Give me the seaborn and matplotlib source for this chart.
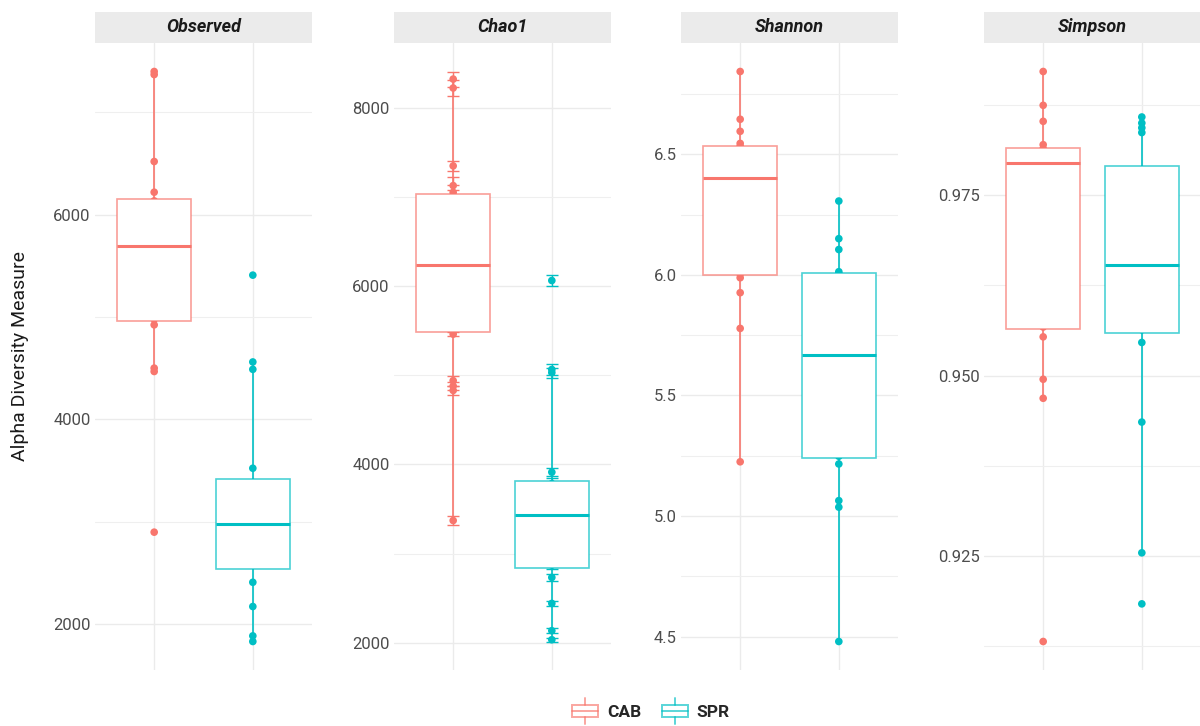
import matplotlib
matplotlib.use("Agg")
import matplotlib.pyplot as plt
import pandas as pd
import seaborn as sns
from matplotlib.colors import to_rgba
from matplotlib.legend_handler import HandlerBase
from matplotlib.lines import Line2D
from matplotlib.patches import Rectangle
from matplotlib.ticker import FormatStrFormatter, MultipleLocator

groups = ["CAB", "SPR"]
measures = ["Observed", "Chao1", "Shannon", "Simpson"]
group_colors = {"CAB": "#F8766D", "SPR": "#00BFC4"}

# values (points inside the boxes are hidden, so estimated)
observed_cab = [2896, 4467, 4500, 4923, 4979, 5200, 5450, 5660,
                5732, 5850, 6000, 6135, 6220, 6520, 7370, 7400]
observed_spr = [1827, 1882, 2169, 2406, 2581, 2700, 2850, 2950,
                3010, 3150, 3300, 3380, 3521, 4488, 4560, 5409]

chao1_cab = [3372, 4830, 4880, 4940, 5461, 5577, 5800, 6000, 6200,
             6278, 6500, 6750, 6990, 7050, 7126, 7347, 8220, 8320]
chao1_cab_se = [55, 50, 45, 55, 25, 60, 70, 65, 75,
                70, 80, 85, 90, 80, 100, 60, 90, 85]
chao1_spr = [2036, 2137, 2443, 2734, 2873, 3000, 3200, 3400,
             3472, 3550, 3680, 3785, 3914, 5030, 5065, 6062]
chao1_spr_se = [20, 25, 30, 37, 40, 40, 45, 50,
                50, 55, 55, 60, 47, 56, 58, 62]

shannon_cab = [5.225, 5.778, 5.926, 5.988, 6.004, 6.10, 6.25, 6.38,
               6.422, 6.46, 6.50, 6.533, 6.545, 6.595, 6.645, 6.843]
shannon_spr = [4.480, 5.037, 5.064, 5.216, 5.248, 5.35, 5.50, 5.64,
               5.694, 5.80, 5.90, 6.004, 6.013, 6.105, 6.150, 6.306]

simpson_cab = [0.91312, 0.94685, 0.94949, 0.95537, 0.95673, 0.9650, 0.9750, 0.9790,
               0.9800, 0.9805, 0.9810, 0.98146, 0.98202, 0.98526, 0.98748, 0.99217]
simpson_spr = [0.91834, 0.92542, 0.94355, 0.95459, 0.95635, 0.9580, 0.9610, 0.9640,
               0.96668, 0.9700, 0.9740, 0.97754, 0.98370, 0.98436, 0.98502, 0.98586]

series = {
    ("Observed", "CAB"): (observed_cab, None),
    ("Observed", "SPR"): (observed_spr, None),
    ("Chao1", "CAB"): (chao1_cab, chao1_cab_se),
    ("Chao1", "SPR"): (chao1_spr, chao1_spr_se),
    ("Shannon", "CAB"): (shannon_cab, None),
    ("Shannon", "SPR"): (shannon_spr, None),
    ("Simpson", "CAB"): (simpson_cab, None),
    ("Simpson", "SPR"): (simpson_spr, None),
}

rows = []
for (measure, group), (vals, errs) in series.items():
    for i, v in enumerate(vals):
        rows.append({"measure": measure, "group": group, "value": v,
                     "se": errs[i] if errs else 0.0})
df = pd.DataFrame(rows)

tick_steps = {"Observed": 2000, "Chao1": 2000, "Shannon": 0.5, "Simpson": 0.025}
tick_formats = {"Observed": "%d", "Chao1": "%d", "Shannon": "%.1f", "Simpson": "%.3f"}


class BoxKeyHandler(HandlerBase):
    """Legend key drawn as a small boxplot glyph."""

    def create_artists(self, legend, orig_handle, xdescent, ydescent,
                       width, height, fontsize, trans):
        col = to_rgba(orig_handle.get_color(), 0.65)
        x0, y0 = -xdescent, -ydescent
        box = Rectangle((x0 + 0.06 * width, y0 + 0.2 * height), 0.88 * width, 0.6 * height,
                        facecolor="white", edgecolor=col, lw=1.4, transform=trans)
        med = Line2D([x0 + 0.06 * width, x0 + 0.94 * width], [y0 + 0.5 * height] * 2,
                     color=col, lw=1.4, transform=trans)
        wlo = Line2D([x0 + 0.5 * width] * 2, [y0 - 0.1 * height, y0 + 0.2 * height],
                     color=col, lw=1.4, transform=trans)
        whi = Line2D([x0 + 0.5 * width] * 2, [y0 + 0.8 * height, y0 + 1.1 * height],
                     color=col, lw=1.4, transform=trans)
        return [box, med, wlo, whi]


sns.set_style("white")
plt.rcParams["font.family"] = ["Roboto", "DejaVu Sans"]

W, H = 1200, 726
fig = plt.figure(figsize=(W / 100, H / 100), dpi=100)
panel_left = [95, 394, 681, 984]
panel_w, panel_top, panel_bottom, strip_h = 217, 43, 670, 31

for left, measure in zip(panel_left, measures):
    ax = fig.add_axes([left / W, 1 - panel_bottom / H, panel_w / W,
                       (panel_bottom - panel_top) / H])
    d = df[df["measure"] == measure]

    sns.stripplot(data=d, x="group", y="value", hue="group", order=groups,
                  hue_order=groups, palette=group_colors, jitter=False, size=5.5,
                  linewidth=0, legend=False, ax=ax, zorder=2)

    if measure == "Chao1":
        for i, g in enumerate(groups):
            s = d[d["group"] == g]
            ax.errorbar([i] * len(s), s["value"], yerr=s["se"], fmt="none",
                        ecolor=group_colors[g], elinewidth=1.0, capsize=4,
                        capthick=1.0, zorder=2)

    for g in groups:
        col = group_colors[g]
        sns.boxplot(data=d[d["group"] == g], x="group", y="value", order=groups,
                    color="white", linecolor=col, width=0.75, showfliers=False,
                    showcaps=False, linewidth=1.2,
                    boxprops={"edgecolor": to_rgba(col, 0.7)},
                    medianprops={"linewidth": 2.2, "color": col},
                    ax=ax, zorder=3)

    vals = d["value"]
    lo = (vals - d["se"]).min()
    hi = (vals + d["se"]).max()
    pad = 0.05 * (hi - lo)
    ax.set_ylim(lo - pad, hi + pad)
    ax.set_xlim(-0.6, 1.6)

    step = tick_steps[measure]
    ax.yaxis.set_major_locator(MultipleLocator(step))
    ax.yaxis.set_minor_locator(MultipleLocator(step / 2))
    ax.yaxis.set_major_formatter(FormatStrFormatter(tick_formats[measure]))
    ax.set_xticks([0, 1])
    ax.set_xticklabels([])
    ax.tick_params(axis="both", which="both", length=0)
    ax.tick_params(axis="y", labelsize=12, labelcolor="#4D4D4D", pad=3)
    ax.set_axisbelow(True)
    ax.grid(which="major", color="#EBEBEB", lw=1.0)
    ax.grid(which="minor", axis="y", color="#EFEFEF", lw=0.8)
    ax.set_xlabel("")
    ax.set_ylabel("")
    for sp in ax.spines.values():
        sp.set_visible(False)

    sh = strip_h / (panel_bottom - panel_top)
    ax.add_patch(Rectangle((0, 1), 1, sh, transform=ax.transAxes, clip_on=False,
                           facecolor="#EBEBEB", edgecolor="none"))
    ax.text(0.5, 1 + sh / 2, measure, transform=ax.transAxes, ha="center",
            va="center", fontsize=13, fontweight="bold", fontstyle="italic",
            color="#1A1A1A")

fig.text(20 / W, 1 - 356 / H, "Alpha Diversity Measure", rotation=90,
         ha="center", va="center", fontsize=14, color="#1A1A1A")

handles = [Line2D([], [], color=group_colors[g], label=g) for g in groups]
fig.legend(handles=handles, labels=groups, loc="center", ncol=2,
           bbox_to_anchor=(650 / W, 1 - 711 / H), frameon=False,
           handler_map={Line2D: BoxKeyHandler()}, handlelength=1.7,
           handleheight=1.5, handletextpad=0.4, columnspacing=1.1,
           prop={"weight": "bold", "size": 12.5})

fig.savefig("out.png", dpi=100)
